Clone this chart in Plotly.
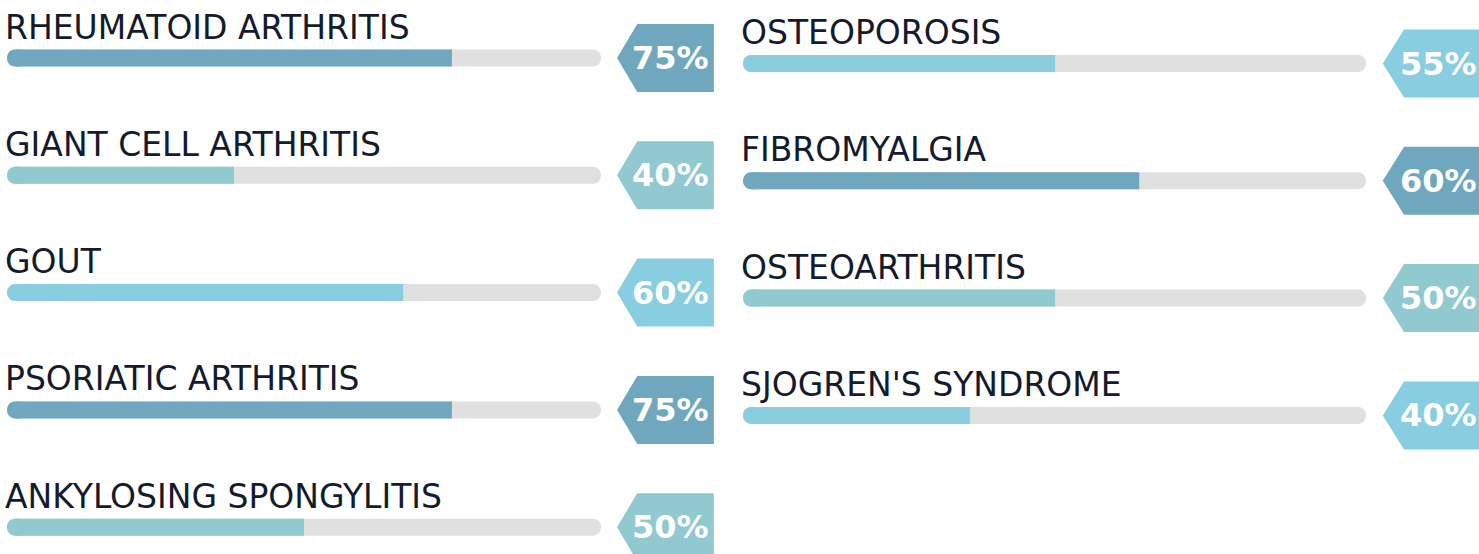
import plotly.graph_objects as go

# ---- data ----
left_names = ["RHEUMATOID ARTHRITIS", "GIANT CELL ARTHRITIS", "GOUT",
              "PSORIATIC ARTHRITIS", "ANKYLOSING SPONGYLITIS"]
left_labels = [75, 40, 60, 75, 50]          # percent shown in tag
left_fill = [0.749, 0.382, 0.667, 0.749, 0.50]  # fill length
left_color_keys = ["dark", "teal", "light", "dark", "teal"]

right_names = ["OSTEOPOROSIS", "FIBROMYALGIA", "OSTEOARTHRITIS", "SJOGREN'S SYNDROME"]
right_labels = [55, 60, 50, 40]
right_fill = [0.501, 0.636, 0.501, 0.364]
right_color_keys = ["light", "dark", "teal", "light"]

PALETTE = {"dark": "#6fa7bf", "teal": "#90c9cf", "light": "#88cee0"}
TRACK = "#e0e0e0"
TEXT = "#131b2d"

W, H = 1479, 554
ROW_PX = 117.3
BAR_W = 17 / ROW_PX
CAP = 0.015

fig = go.Figure()


def add_column(names, labels, fills, keys, xa, ya):
    n = len(names)
    rows = list(range(n))
    # tracks
    fig.add_trace(go.Bar(y=rows, x=[1] * n, base=0, orientation="h", width=BAR_W,
                         marker=dict(color=TRACK, cornerradius=8, line=dict(width=0)),
                         xaxis=xa, yaxis=ya, hoverinfo="skip", showlegend=False))
    cols = [PALETTE[k] for k in keys]
    # rounded left cap
    fig.add_trace(go.Bar(y=rows, x=[2 * CAP + 0.005] * n, base=0, orientation="h", width=BAR_W,
                         marker=dict(color=cols, cornerradius=8, line=dict(width=0)),
                         xaxis=xa, yaxis=ya, hoverinfo="skip", showlegend=False))
    # square-ended fill
    fig.add_trace(go.Bar(y=rows, x=[v - CAP for v in fills], base=CAP, orientation="h",
                         width=BAR_W, marker=dict(color=cols, line=dict(width=0)),
                         xaxis=xa, yaxis=ya, showlegend=False,
                         hovertemplate="%{customdata}<extra></extra>", customdata=names))
    # tags
    tip, body, right = 1.027, 1.061, 1.19
    half = 34 / ROW_PX
    for i in rows:
        fig.add_trace(go.Scatter(
            x=[tip, body, right, right, body, tip],
            y=[i, i - half, i - half, i + half, i + half, i],
            fill="toself", fillcolor=cols[i], mode="lines", line=dict(width=0, color=cols[i]),
            xaxis=xa, yaxis=ya, hoverinfo="skip", showlegend=False))
        fig.add_annotation(x=1.117, y=i, xref=xa, yref=ya, text=f"{labels[i]}%",
                           showarrow=False, xanchor="center", yanchor="middle",
                           font=dict(family="DejaVu Sans", size=32, color="white", weight="bold"))
        fig.add_annotation(x=0, y=i, xref=xa, yref=ya, text=names[i], showarrow=False,
                           xanchor="left", yanchor="middle", xshift=-4, yshift=31,
                           font=dict(family="DejaVu Sans", size=33, color=TEXT))


add_column(left_names, left_labels, left_fill, left_color_keys, "x", "y")
add_column(right_names, right_labels, right_fill, right_color_keys, "x2", "y2")

half_w = W / 2
fig.update_layout(
    width=W, height=H, margin=dict(l=0, r=0, t=0, b=0),
    paper_bgcolor="white", plot_bgcolor="white", barmode="overlay",
    xaxis=dict(domain=[0, 0.5], range=[-7 / 594, (half_w - 7) / 594], visible=False,
               fixedrange=True, anchor="y"),
    xaxis2=dict(domain=[0.5, 1], range=[(half_w - 743) / 623, (W - 743) / 623], visible=False,
                fixedrange=True, anchor="y2"),
    yaxis=dict(domain=[0, 1], range=[(H - 58) / ROW_PX, -58 / ROW_PX], visible=False,
               fixedrange=True, anchor="x"),
    yaxis2=dict(domain=[0, 1], range=[(H - 63.5) / ROW_PX, -63.5 / ROW_PX], visible=False,
                anchor="x2", fixedrange=True),
)

fig.write_html("out.html", config={"displayModeBar": False},
               post_script="document.body.style.margin='0';document.body.style.overflow='hidden';")
